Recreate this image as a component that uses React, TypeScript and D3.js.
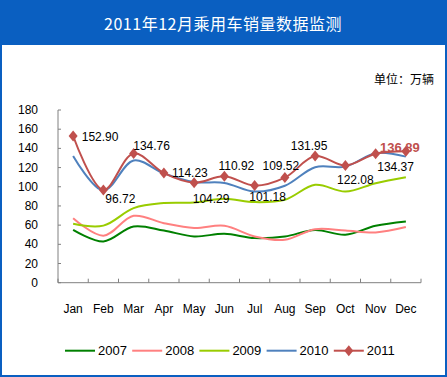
import React from "react";
import * as d3 from "d3";

const months = ["Jan","Feb","Mar","Apr","May","Jun","Jul","Aug","Sep","Oct","Nov","Dec"];
const years = ["2007","2008","2009","2010","2011"];
const s2007 = [55.1,43,58.6,54.4,48.2,51,46.5,48.2,55,50,59.3,63.8];
const s2008 = [67.3,49,69.7,62,57,59.3,48.2,44.7,55.8,54.4,52.4,58];
const s2009 = [61.4,59.5,77.7,83,83.6,87.4,84,86.4,102,95,103.7,110];
const s2010 = [132,96,127.3,114,105,104,95,101,120.4,121,135,131.4];
const s2011 = [152.90,96.72,134.76,114.23,104.29,110.92,101.18,109.52,131.95,122.08,134.37,136.89];
const yTicks = [0,20,40,60,80,100,120,140,160,180];
const title = "2011年12月乘用车销量数据监测";
const unitLabel = "单位：万辆";

const colors = ["#008000","#FF8080","#99CC00","#4F81BD","#C0504D"];
// label placement offsets (layout, not data)
const labelOffsets: [number, number][] = [
  [27,1],[17,9],[18,-7],[26,0],[17,16],[12,-10],[13,11.5],[-4,-12],[-6,-10],[10,14],[20,13],[-6,-4]
];

export default function App() {
  const W = 447, H = 377;
  const left = 58, right = 421, top = 110, bottom = 282.7;
  const x = d3.scaleBand<string>().domain(months).range([left, right]);
  const y = d3.scaleLinear().domain([0, 180]).range([bottom, top]);
  const series = [s2007, s2008, s2009, s2010, s2011];
  const line = d3.line<number>()
    .x((_, i) => (x(months[i]) as number) + x.bandwidth() / 2)
    .y((d) => y(d))
    .curve(d3.curveCatmullRom.alpha(0.5));
  const cx = (i: number) => (x(months[i]) as number) + x.bandwidth() / 2;
  const diamond = (px: number, py: number) =>
    `M${px},${py - 5.5}L${px + 4.5},${py}L${px},${py + 5.5}L${px - 4.5},${py}Z`;
  const font = "Liberation Sans, Arial, sans-serif";
  const cjk = "'Noto Sans CJK SC', sans-serif";
  const tickPositions = [...months.map((m) => x(m) as number), right];

  return (
    <svg width={W} height={H} style={{ position: "absolute", left: 0, top: 0, display: "block" }}>
      <rect x={0} y={0} width={W} height={H} fill="#fff" />
      <rect x={0} y={0} width={W} height={45} fill="#0A5FC1" />
      <text x={223} y={23} fill="#fff" fontSize={16} fontFamily={cjk} textAnchor="middle" dominantBaseline="central" letterSpacing={0.5}>{title}</text>
      <text x={434} y={78} fill="#000" fontSize={12} fontFamily={cjk} textAnchor="end" dominantBaseline="central">{unitLabel}</text>
      <rect x={1} y={1} width={W - 2} height={H - 2} fill="none" stroke="#0A5FC1" strokeWidth={2} />

      {/* y axis */}
      <line x1={left} x2={left} y1={top} y2={bottom} stroke="#808080" strokeWidth={1} />
      {yTicks.map((t) => (
        <g key={t}>
          <line x1={left} x2={left + 3} y1={y(t)} y2={y(t)} stroke="#808080" />
          <text x={38} y={y(t)} fontSize={12} fontFamily={font} textAnchor="end" dominantBaseline="central" fill="#000">{t}</text>
        </g>
      ))}
      {/* x axis */}
      <line x1={left} x2={right} y1={bottom} y2={bottom} stroke="#808080" />
      {tickPositions.map((p, i) => (
        <line key={i} x1={p} x2={p} y1={bottom} y2={bottom - 4} stroke="#808080" />
      ))}
      {months.map((m, i) => (
        <text key={m} x={cx(i)} y={309} fontSize={12} fontFamily={font} textAnchor="middle" dominantBaseline="central" fill="#000">{m}</text>
      ))}

      {series.map((s, k) => (
        <path key={k} d={line(s) || ""} fill="none" stroke={colors[k]} strokeWidth={2} />
      ))}
      {s2011.map((v, i) => (
        <path key={i} d={diamond(cx(i), y(v))} fill={colors[4]} />
      ))}
      {s2011.map((v, i) => (
        <text key={i} x={cx(i) + labelOffsets[i][0]} y={y(v) + labelOffsets[i][1]}
          fontSize={i === 11 ? 13 : 12} fontWeight={i === 11 ? "bold" : "normal"}
          fill={i === 11 ? colors[4] : "#000"} fontFamily={font}
          textAnchor="middle" dominantBaseline="central">{v.toFixed(2)}</text>
      ))}

      {/* legend */}
      {years.map((yr, k) => {
        const lx = 65 + k * 67.2;
        return (
          <g key={yr}>
            <line x1={lx} x2={lx + 30} y1={350.7} y2={350.7} stroke={colors[k]} strokeWidth={2} />
            {k === 4 && <path d={diamond(lx + 15, 350.7)} fill={colors[4]} />}
            <text x={lx + 33} y={350.7} fontSize={13} fontFamily={font} dominantBaseline="central" fill="#000">{yr}</text>
          </g>
        );
      })}
    </svg>
  );
}
